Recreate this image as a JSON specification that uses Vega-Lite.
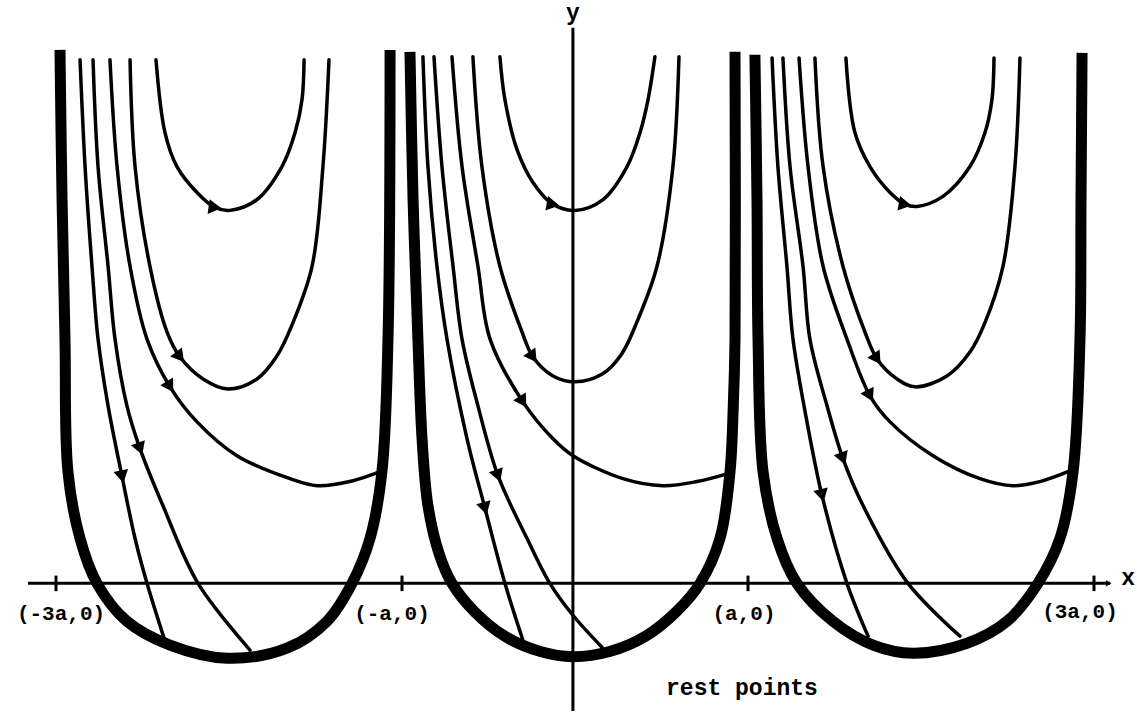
{
  "$schema": "https://vega.github.io/schema/vega-lite/v6.json",
  "width": 1137,
  "height": 713,
  "autosize": {"type": "fit", "contains": "padding"},
  "padding": 0,
  "background": "white",
  "config": {"view": {"stroke": null}},
  "datasets": {
    "curves": [
      {"c":"SL","k":"sep","i":0,"x":-2.977,"y":3.092},
      {"c":"SL","k":"sep","i":1,"x":-2.965,"y":2.225},
      {"c":"SL","k":"sep","i":2,"x":-2.948,"y":1.416},
      {"c":"SL","k":"sep","i":3,"x":-2.931,"y":0.647},
      {"c":"SL","k":"sep","i":4,"x":-2.861,"y":0.26},
      {"c":"SL","k":"sep","i":5,"x":-2.763,"y":0},
      {"c":"SL","k":"sep","i":6,"x":-2.59,"y":-0.22},
      {"c":"SL","k":"sep","i":7,"x":-2.341,"y":-0.358},
      {"c":"SL","k":"sep","i":8,"x":-2.012,"y":-0.434},
      {"c":"SL","k":"sep","i":9,"x":-1.665,"y":-0.376},
      {"c":"SL","k":"sep","i":10,"x":-1.434,"y":-0.22},
      {"c":"SL","k":"sep","i":11,"x":-1.289,"y":0},
      {"c":"SL","k":"sep","i":12,"x":-1.185,"y":0.26},
      {"c":"SL","k":"sep","i":13,"x":-1.116,"y":0.647},
      {"c":"SL","k":"sep","i":14,"x":-1.081,"y":1.416},
      {"c":"SL","k":"sep","i":15,"x":-1.069,"y":3.092},

      {"c":"SM","k":"sep","i":0,"x":-0.954,"y":3.081},
      {"c":"SM","k":"sep","i":1,"x":-0.936,"y":2.225},
      {"c":"SM","k":"sep","i":2,"x":-0.908,"y":1.416},
      {"c":"SM","k":"sep","i":3,"x":-0.884,"y":0.838},
      {"c":"SM","k":"sep","i":4,"x":-0.85,"y":0.451},
      {"c":"SM","k":"sep","i":5,"x":-0.785,"y":0.17},
      {"c":"SM","k":"sep","i":6,"x":-0.711,"y":0},
      {"c":"SM","k":"sep","i":7,"x":-0.58,"y":-0.165},
      {"c":"SM","k":"sep","i":8,"x":-0.4,"y":-0.31},
      {"c":"SM","k":"sep","i":9,"x":-0.2,"y":-0.395},
      {"c":"SM","k":"sep","i":10,"x":-0.012,"y":-0.425},
      {"c":"SM","k":"sep","i":11,"x":0.2,"y":-0.395},
      {"c":"SM","k":"sep","i":12,"x":0.41,"y":-0.305},
      {"c":"SM","k":"sep","i":13,"x":0.59,"y":-0.16},
      {"c":"SM","k":"sep","i":14,"x":0.723,"y":0},
      {"c":"SM","k":"sep","i":15,"x":0.838,"y":0.26},
      {"c":"SM","k":"sep","i":16,"x":0.896,"y":0.647},
      {"c":"SM","k":"sep","i":17,"x":0.915,"y":1.029},
      {"c":"SM","k":"sep","i":18,"x":0.925,"y":1.416},
      {"c":"SM","k":"sep","i":19,"x":0.925,"y":3.081},

      {"c":"SR","k":"sep","i":0,"x":1.04,"y":3.064},
      {"c":"SR","k":"sep","i":1,"x":1.052,"y":2.225},
      {"c":"SR","k":"sep","i":2,"x":1.058,"y":1.416},
      {"c":"SR","k":"sep","i":3,"x":1.087,"y":0.647},
      {"c":"SR","k":"sep","i":4,"x":1.168,"y":0.26},
      {"c":"SR","k":"sep","i":5,"x":1.283,"y":0},
      {"c":"SR","k":"sep","i":6,"x":1.491,"y":-0.22},
      {"c":"SR","k":"sep","i":7,"x":1.723,"y":-0.358},
      {"c":"SR","k":"sep","i":8,"x":1.954,"y":-0.405},
      {"c":"SR","k":"sep","i":9,"x":2.266,"y":-0.347},
      {"c":"SR","k":"sep","i":10,"x":2.497,"y":-0.22},
      {"c":"SR","k":"sep","i":11,"x":2.676,"y":0},
      {"c":"SR","k":"sep","i":12,"x":2.803,"y":0.26},
      {"c":"SR","k":"sep","i":13,"x":2.879,"y":0.647},
      {"c":"SR","k":"sep","i":14,"x":2.919,"y":1.416},
      {"c":"SR","k":"sep","i":15,"x":2.925,"y":2.225},
      {"c":"SR","k":"sep","i":16,"x":2.931,"y":3.075},

      {"c":"AL","k":"traj","i":0,"x":-2.422,"y":3.035},
      {"c":"AL","k":"traj","i":1,"x":-2.37,"y":2.613},
      {"c":"AL","k":"traj","i":2,"x":-2.301,"y":2.416},
      {"c":"AL","k":"traj","i":3,"x":-2.185,"y":2.266},
      {"c":"AL","k":"traj","i":4,"x":-2.081,"y":2.179},
      {"c":"AL","k":"traj","i":5,"x":-1.994,"y":2.162},
      {"c":"AL","k":"traj","i":6,"x":-1.838,"y":2.225},
      {"c":"AL","k":"traj","i":7,"x":-1.694,"y":2.416},
      {"c":"AL","k":"traj","i":8,"x":-1.618,"y":2.613},
      {"c":"AL","k":"traj","i":9,"x":-1.578,"y":2.803},
      {"c":"AL","k":"traj","i":10,"x":-1.566,"y":3.035},

      {"c":"BL","k":"traj","i":0,"x":-2.572,"y":3.035},
      {"c":"BL","k":"traj","i":1,"x":-2.543,"y":2.416},
      {"c":"BL","k":"traj","i":2,"x":-2.457,"y":1.838},
      {"c":"BL","k":"traj","i":3,"x":-2.358,"y":1.457},
      {"c":"BL","k":"traj","i":4,"x":-2.283,"y":1.312},
      {"c":"BL","k":"traj","i":5,"x":-2.15,"y":1.185},
      {"c":"BL","k":"traj","i":6,"x":-2.006,"y":1.127},
      {"c":"BL","k":"traj","i":7,"x":-1.838,"y":1.185},
      {"c":"BL","k":"traj","i":8,"x":-1.723,"y":1.318},
      {"c":"BL","k":"traj","i":9,"x":-1.635,"y":1.5},
      {"c":"BL","k":"traj","i":10,"x":-1.52,"y":1.838},
      {"c":"BL","k":"traj","i":11,"x":-1.457,"y":2.416},
      {"c":"BL","k":"traj","i":12,"x":-1.422,"y":3.035},

      {"c":"CL","k":"traj","i":0,"x":-2.688,"y":3.035},
      {"c":"CL","k":"traj","i":1,"x":-2.647,"y":2.416},
      {"c":"CL","k":"traj","i":2,"x":-2.572,"y":1.838},
      {"c":"CL","k":"traj","i":3,"x":-2.474,"y":1.416},
      {"c":"CL","k":"traj","i":4,"x":-2.341,"y":1.139},
      {"c":"CL","k":"traj","i":5,"x":-2.185,"y":0.936},
      {"c":"CL","k":"traj","i":6,"x":-1.954,"y":0.74},
      {"c":"CL","k":"traj","i":7,"x":-1.647,"y":0.607},
      {"c":"CL","k":"traj","i":8,"x":-1.491,"y":0.566},
      {"c":"CL","k":"traj","i":9,"x":-1.283,"y":0.595},
      {"c":"CL","k":"traj","i":10,"x":-1.127,"y":0.647},

      {"c":"DL","k":"traj","i":0,"x":-2.786,"y":3.035},
      {"c":"DL","k":"traj","i":1,"x":-2.757,"y":2.416},
      {"c":"DL","k":"traj","i":2,"x":-2.699,"y":1.838},
      {"c":"DL","k":"traj","i":3,"x":-2.659,"y":1.416},
      {"c":"DL","k":"traj","i":4,"x":-2.59,"y":1.029},
      {"c":"DL","k":"traj","i":5,"x":-2.514,"y":0.78},
      {"c":"DL","k":"traj","i":6,"x":-2.382,"y":0.451},
      {"c":"DL","k":"traj","i":7,"x":-2.179,"y":0},
      {"c":"DL","k":"traj","i":8,"x":-1.879,"y":-0.387},

      {"c":"EL","k":"traj","i":0,"x":-2.861,"y":3.035},
      {"c":"EL","k":"traj","i":1,"x":-2.832,"y":2.416},
      {"c":"EL","k":"traj","i":2,"x":-2.792,"y":1.838},
      {"c":"EL","k":"traj","i":3,"x":-2.757,"y":1.416},
      {"c":"EL","k":"traj","i":4,"x":-2.699,"y":1.029},
      {"c":"EL","k":"traj","i":5,"x":-2.618,"y":0.618},
      {"c":"EL","k":"traj","i":6,"x":-2.543,"y":0.26},
      {"c":"EL","k":"traj","i":7,"x":-2.474,"y":0},
      {"c":"EL","k":"traj","i":8,"x":-2.37,"y":-0.335},

      {"c":"AM","k":"traj","i":0,"x":-0.434,"y":3.052},
      {"c":"AM","k":"traj","i":1,"x":-0.405,"y":2.803},
      {"c":"AM","k":"traj","i":2,"x":-0.335,"y":2.514},
      {"c":"AM","k":"traj","i":3,"x":-0.243,"y":2.324},
      {"c":"AM","k":"traj","i":4,"x":-0.127,"y":2.197},
      {"c":"AM","k":"traj","i":5,"x":0,"y":2.162},
      {"c":"AM","k":"traj","i":6,"x":0.162,"y":2.225},
      {"c":"AM","k":"traj","i":7,"x":0.301,"y":2.416},
      {"c":"AM","k":"traj","i":8,"x":0.376,"y":2.613},
      {"c":"AM","k":"traj","i":9,"x":0.422,"y":2.803},
      {"c":"AM","k":"traj","i":10,"x":0.462,"y":3.052},

      {"c":"BM","k":"traj","i":0,"x":-0.59,"y":3.052},
      {"c":"BM","k":"traj","i":1,"x":-0.538,"y":2.416},
      {"c":"BM","k":"traj","i":2,"x":-0.434,"y":1.838},
      {"c":"BM","k":"traj","i":3,"x":-0.306,"y":1.457},
      {"c":"BM","k":"traj","i":4,"x":-0.243,"y":1.312},
      {"c":"BM","k":"traj","i":5,"x":-0.127,"y":1.202},
      {"c":"BM","k":"traj","i":6,"x":0,"y":1.168},
      {"c":"BM","k":"traj","i":7,"x":0.16,"y":1.215},
      {"c":"BM","k":"traj","i":8,"x":0.27,"y":1.33},
      {"c":"BM","k":"traj","i":9,"x":0.36,"y":1.52},
      {"c":"BM","k":"traj","i":10,"x":0.474,"y":1.838},
      {"c":"BM","k":"traj","i":11,"x":0.566,"y":2.416},
      {"c":"BM","k":"traj","i":12,"x":0.601,"y":3.052},

      {"c":"CM","k":"traj","i":0,"x":-0.711,"y":3.052},
      {"c":"CM","k":"traj","i":1,"x":-0.653,"y":2.416},
      {"c":"CM","k":"traj","i":2,"x":-0.561,"y":1.838},
      {"c":"CM","k":"traj","i":3,"x":-0.491,"y":1.416},
      {"c":"CM","k":"traj","i":4,"x":-0.301,"y":1.052},
      {"c":"CM","k":"traj","i":5,"x":-0.127,"y":0.838},
      {"c":"CM","k":"traj","i":6,"x":-0.012,"y":0.74},
      {"c":"CM","k":"traj","i":7,"x":0.277,"y":0.607},
      {"c":"CM","k":"traj","i":8,"x":0.509,"y":0.566},
      {"c":"CM","k":"traj","i":9,"x":0.705,"y":0.59},
      {"c":"CM","k":"traj","i":10,"x":0.884,"y":0.636},

      {"c":"DM","k":"traj","i":0,"x":-0.815,"y":3.052},
      {"c":"DM","k":"traj","i":1,"x":-0.769,"y":2.416},
      {"c":"DM","k":"traj","i":2,"x":-0.705,"y":1.838},
      {"c":"DM","k":"traj","i":3,"x":-0.653,"y":1.416},
      {"c":"DM","k":"traj","i":4,"x":-0.561,"y":1.029},
      {"c":"DM","k":"traj","i":5,"x":-0.445,"y":0.624},
      {"c":"DM","k":"traj","i":6,"x":-0.277,"y":0.26},
      {"c":"DM","k":"traj","i":7,"x":-0.145,"y":0},
      {"c":"DM","k":"traj","i":8,"x":-0.012,"y":-0.185},
      {"c":"DM","k":"traj","i":9,"x":0.156,"y":-0.37},

      {"c":"EM","k":"traj","i":0,"x":-0.879,"y":3.052},
      {"c":"EM","k":"traj","i":1,"x":-0.85,"y":2.416},
      {"c":"EM","k":"traj","i":2,"x":-0.798,"y":1.838},
      {"c":"EM","k":"traj","i":3,"x":-0.74,"y":1.416},
      {"c":"EM","k":"traj","i":4,"x":-0.624,"y":0.838},
      {"c":"EM","k":"traj","i":5,"x":-0.52,"y":0.434},
      {"c":"EM","k":"traj","i":6,"x":-0.405,"y":0},
      {"c":"EM","k":"traj","i":7,"x":-0.301,"y":-0.33},

      {"c":"AR","k":"traj","i":0,"x":1.566,"y":3.046},
      {"c":"AR","k":"traj","i":1,"x":1.618,"y":2.613},
      {"c":"AR","k":"traj","i":2,"x":1.705,"y":2.416},
      {"c":"AR","k":"traj","i":3,"x":1.821,"y":2.266},
      {"c":"AR","k":"traj","i":4,"x":1.908,"y":2.197},
      {"c":"AR","k":"traj","i":5,"x":1.977,"y":2.185},
      {"c":"AR","k":"traj","i":6,"x":2.127,"y":2.243},
      {"c":"AR","k":"traj","i":7,"x":2.283,"y":2.416},
      {"c":"AR","k":"traj","i":8,"x":2.37,"y":2.613},
      {"c":"AR","k":"traj","i":9,"x":2.41,"y":2.803},
      {"c":"AR","k":"traj","i":10,"x":2.422,"y":3.046},

      {"c":"BR","k":"traj","i":0,"x":1.387,"y":3.046},
      {"c":"BR","k":"traj","i":1,"x":1.434,"y":2.416},
      {"c":"BR","k":"traj","i":2,"x":1.549,"y":1.838},
      {"c":"BR","k":"traj","i":3,"x":1.676,"y":1.457},
      {"c":"BR","k":"traj","i":4,"x":1.746,"y":1.301},
      {"c":"BR","k":"traj","i":5,"x":1.861,"y":1.185},
      {"c":"BR","k":"traj","i":6,"x":1.965,"y":1.139},
      {"c":"BR","k":"traj","i":7,"x":2.15,"y":1.202},
      {"c":"BR","k":"traj","i":8,"x":2.283,"y":1.341},
      {"c":"BR","k":"traj","i":9,"x":2.365,"y":1.5},
      {"c":"BR","k":"traj","i":10,"x":2.474,"y":1.838},
      {"c":"BR","k":"traj","i":11,"x":2.543,"y":2.416},
      {"c":"BR","k":"traj","i":12,"x":2.572,"y":3.046},

      {"c":"CR","k":"traj","i":0,"x":1.295,"y":3.046},
      {"c":"CR","k":"traj","i":1,"x":1.347,"y":2.416},
      {"c":"CR","k":"traj","i":2,"x":1.434,"y":1.838},
      {"c":"CR","k":"traj","i":3,"x":1.572,"y":1.416},
      {"c":"CR","k":"traj","i":4,"x":1.705,"y":1.087},
      {"c":"CR","k":"traj","i":5,"x":1.821,"y":0.936},
      {"c":"CR","k":"traj","i":6,"x":2.069,"y":0.74},
      {"c":"CR","k":"traj","i":7,"x":2.341,"y":0.607},
      {"c":"CR","k":"traj","i":8,"x":2.532,"y":0.566},
      {"c":"CR","k":"traj","i":9,"x":2.688,"y":0.59},
      {"c":"CR","k":"traj","i":10,"x":2.85,"y":0.647},

      {"c":"DR","k":"traj","i":0,"x":1.202,"y":3.046},
      {"c":"DR","k":"traj","i":1,"x":1.243,"y":2.416},
      {"c":"DR","k":"traj","i":2,"x":1.318,"y":1.838},
      {"c":"DR","k":"traj","i":3,"x":1.358,"y":1.416},
      {"c":"DR","k":"traj","i":4,"x":1.457,"y":1.029},
      {"c":"DR","k":"traj","i":5,"x":1.549,"y":0.723},
      {"c":"DR","k":"traj","i":6,"x":1.665,"y":0.451},
      {"c":"DR","k":"traj","i":7,"x":1.925,"y":0},
      {"c":"DR","k":"traj","i":8,"x":2.225,"y":-0.306},

      {"c":"ER","k":"traj","i":0,"x":1.139,"y":3.046},
      {"c":"ER","k":"traj","i":1,"x":1.173,"y":2.416},
      {"c":"ER","k":"traj","i":2,"x":1.225,"y":1.838},
      {"c":"ER","k":"traj","i":3,"x":1.26,"y":1.416},
      {"c":"ER","k":"traj","i":4,"x":1.341,"y":0.936},
      {"c":"ER","k":"traj","i":5,"x":1.428,"y":0.509},
      {"c":"ER","k":"traj","i":6,"x":1.572,"y":0},
      {"c":"ER","k":"traj","i":7,"x":1.694,"y":-0.306}
    ],
    "arrows": [
      {"x":-2.081,"y":2.179,"ang":98},
      {"x":-2.283,"y":1.312,"ang":142},
      {"x":-2.341,"y":1.139,"ang":149},
      {"x":-2.514,"y":0.78,"ang":160},
      {"x":-2.618,"y":0.618,"ang":168},
      {"x":-0.127,"y":2.197,"ang":100},
      {"x":-0.243,"y":1.312,"ang":145},
      {"x":-0.301,"y":1.052,"ang":148},
      {"x":-0.445,"y":0.624,"ang":160},
      {"x":-0.52,"y":0.434,"ang":165},
      {"x":1.908,"y":2.197,"ang":100},
      {"x":1.746,"y":1.301,"ang":146},
      {"x":1.705,"y":1.087,"ang":153},
      {"x":1.549,"y":0.723,"ang":160},
      {"x":1.428,"y":0.509,"ang":166}
    ],
    "axes": [
      {"x":-3.162,"x2":3.092,"y":0,"y2":0},
      {"x":-0.012,"x2":-0.012,"y":3.22,"y2":-0.74},
      {"x":-3,"x2":-3,"y":-0.045,"y2":0.045},
      {"x":-1,"x2":-1,"y":-0.045,"y2":0.045},
      {"x":1,"x2":1,"y":-0.045,"y2":0.045},
      {"x":3,"x2":3,"y":-0.045,"y2":0.045}
    ],
    "ticklabels": [
      {"t":"(-3a,0)","x":-2.971,"y":-0.214},
      {"t":"(-a,0)","x":-1.058,"y":-0.214},
      {"t":"(a,0)","x":0.977,"y":-0.214},
      {"t":"(3a,0)","x":2.919,"y":-0.202}
    ],
    "axislabels": [
      {"t":"x","x":3.197,"y":-0.012},
      {"t":"y","x":-0.012,"y":3.266}
    ],
    "notes": [
      {"t":"rest points","x":0.965,"y":-0.647}
    ]
  },
  "encoding": {
    "x": {"field":"x","type":"quantitative","scale":{"domain":[-3.3237,3.2486],"nice":false,"zero":false},"axis":null},
    "y": {"field":"y","type":"quantitative","scale":{"domain":[-0.7399,3.3815],"nice":false,"zero":false},"axis":null}
  },
  "layer": [
    {
      "data": {"name":"axes"},
      "mark": {"type":"rule","color":"black","strokeWidth":3},
      "encoding": {"x2":{"field":"x2"},"y2":{"field":"y2"}}
    },
    {
      "data": {"values":[{"x":3.085,"y":0}]},
      "mark": {"type":"point","shape":"triangle-right","filled":true,"color":"black","size":40,"opacity":1}
    },
    {
      "data": {"name":"curves"},
      "transform": [{"filter":"datum.k === 'sep'"}],
      "mark": {"type":"line","color":"black","strokeWidth":11,"interpolate":"catmull-rom","strokeCap":"butt","strokeJoin":"round"},
      "encoding": {"detail":{"field":"c"},"order":{"field":"i","type":"quantitative"}}
    },
    {
      "data": {"name":"curves"},
      "transform": [{"filter":"datum.k === 'traj'"}],
      "mark": {"type":"line","color":"black","strokeWidth":3.5,"interpolate":"catmull-rom","strokeCap":"round"},
      "encoding": {"detail":{"field":"c"},"order":{"field":"i","type":"quantitative"}}
    },
    {
      "data": {"name":"arrows"},
      "mark": {"type":"point","shape":"triangle-up","filled":true,"color":"black","size":220,"opacity":1},
      "encoding": {"angle":{"field":"ang","type":"quantitative","scale":null}}
    },
    {
      "data": {"name":"ticklabels"},
      "mark": {"type":"text","font":"Liberation Mono","fontSize":21,"fontWeight":"bold","align":"center","baseline":"alphabetic","color":"black"},
      "encoding": {"text":{"field":"t"}}
    },
    {
      "data": {"name":"axislabels"},
      "mark": {"type":"text","font":"Liberation Mono","fontSize":23,"fontWeight":"bold","align":"center","baseline":"alphabetic","color":"black"},
      "encoding": {"text":{"field":"t"}}
    },
    {
      "data": {"name":"notes"},
      "mark": {"type":"text","font":"Liberation Mono","fontSize":23,"fontWeight":"bold","align":"center","baseline":"alphabetic","color":"black"},
      "encoding": {"text":{"field":"t"}}
    }
  ]
}
